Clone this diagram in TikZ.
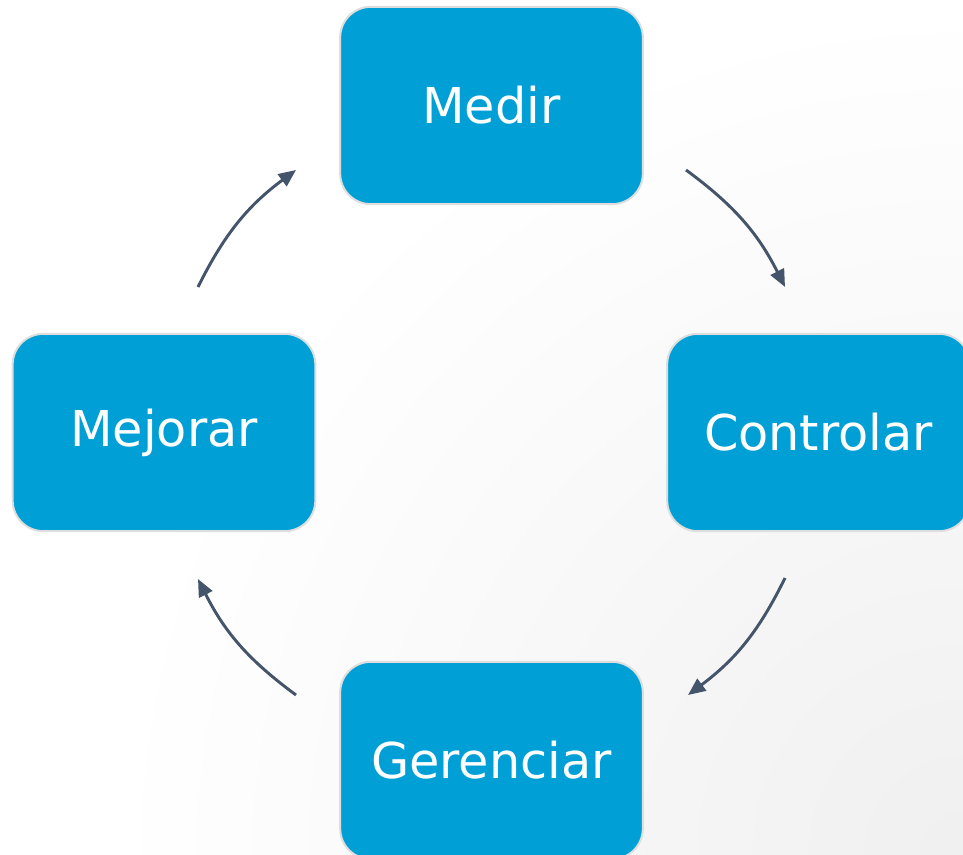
\documentclass[tikz,border=0pt]{standalone}
\usepackage{fontspec}
\setmainfont{DejaVu Sans}
\usetikzlibrary{arrows.meta}
\definecolor{boxblue}{RGB}{0,160,214}
\definecolor{boxedge}{RGB}{222,222,222}
\definecolor{arrowslate}{RGB}{68,84,106}

\begin{document}
\begin{tikzpicture}[x=0.75pt, y=-0.75pt,
    stage/.style={rectangle, rounded corners=23pt, fill=boxblue, draw=boxedge,
      line width=1.5pt, minimum width=227pt, minimum height=148pt,
      text=white, font=\fontsize{37}{44}\selectfont},
    flow/.style={draw=arrowslate, line width=2.2pt,
      -{Triangle[length=13pt, width=11pt]}}]
      \useasboundingbox (0,0) rectangle (963,855);
      \begin{scope}
        \clip (0,0) rectangle (963,855);
        \shade[inner color=black!6, outer color=white] (963,855) circle[radius=850];
      \end{scope}
      \node[stage] (medir) at (491.5,105.5) {Medir};
      \node[stage] (mejorar) at (164,432.5) {Mejorar};
      \node[stage] (controlar) at (818.5,432.5) {Controlar};
      \node[stage] (gerenciar) at (491.5,760.5) {Gerenciar};
      \coordinate (a1) at (198,287);  \coordinate (b1) at (296,170);
      \coordinate (a2) at (686,170);  \coordinate (b2) at (785,287);
      \coordinate (a3) at (785,578);  \coordinate (b3) at (688,695);
      \coordinate (a4) at (296,695);  \coordinate (b4) at (198,579);
      \draw[flow] (a1) to[bend left=13.5] (b1);
      \draw[flow] (a2) to[bend left=13.5] (b2);
      \draw[flow] (a3) to[bend left=13.5] (b3);
      \draw[flow] (a4) to[bend left=13.5] (b4);
\end{tikzpicture}
\end{document}
